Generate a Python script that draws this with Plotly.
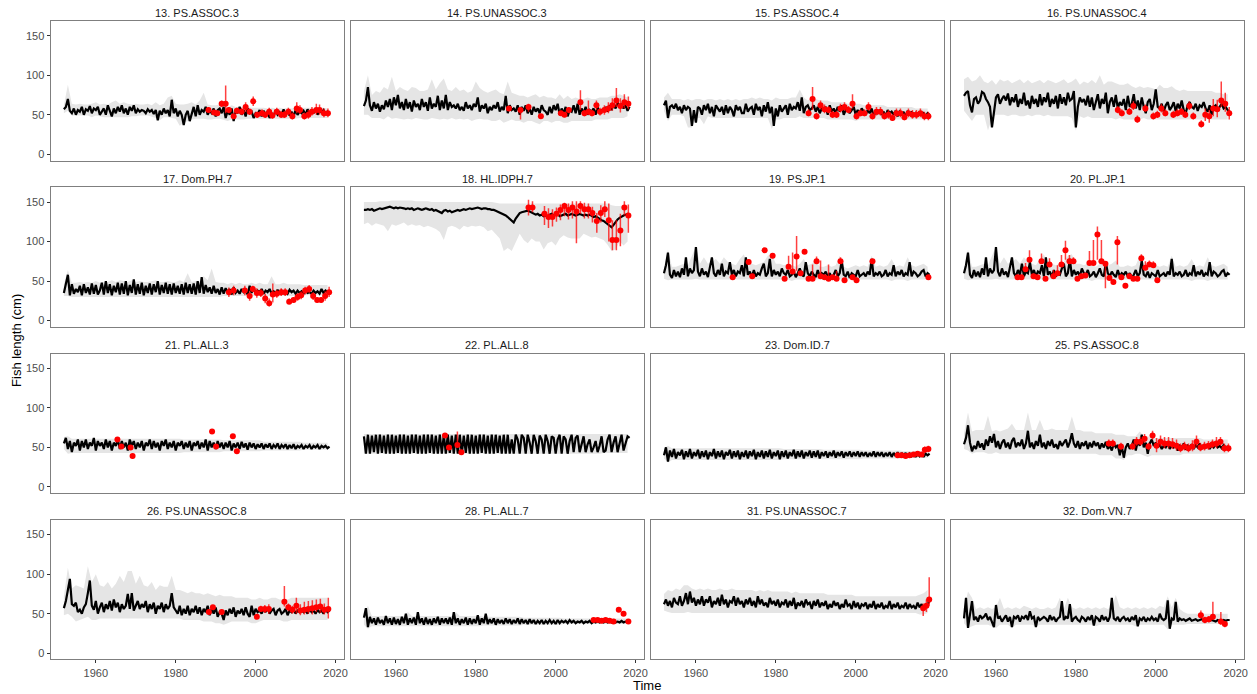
import plotly.graph_objects as go

# ---------------- data (line: half-yearly from 1952.0; ribbon: yearly from 1952) ----------------
titles = ["13. PS.ASSOC.3", "14. PS.UNASSOC.3", "15. PS.ASSOC.4", "16. PS.UNASSOC.4",
          "17. Dom.PH.7", "18. HL.IDPH.7", "19. PS.JP.1", "20. PL.JP.1",
          "21. PL.ALL.3", "22. PL.ALL.8", "23. Dom.ID.7", "25. PS.ASSOC.8",
          "26. PS.UNASSOC.8", "28. PL.ALL.7", "31. PS.UNASSOC.7", "32. Dom.VN.7"]
x_ticks = [1960, 1980, 2000, 2020]
y_ticks = [0, 50, 100, 150]

p13_line = [57,60,70,55,52,58,50,56,54,60,50,57,55,61,52,58,56,60,50,55,
            58,50,62,55,48,58,52,60,54,62,52,58,50,60,55,62,52,57,54,56,
            55,52,57,54,56,51,56,43,55,50,58,52,56,48,69,52,58,48,55,50,
            37,50,55,42,52,60,48,62,50,56,54,60,50,55,52,58,48,56,58,52,
            60,46,55,50,58,42,55,52,60,50,56,48,58,52,54,46,52,50,56,48,
            55,50,54,46,52,48,56,50,53,48,57,50,55,49,54,48,56,50,54,52,
            55,50,57,51,56,52,58,50,55,53,56,50,54,52]
p13_hi = [62,88,64,63,64,63,63,64,66,63, 64,63,66,68,64,66,64,63,64,63,
          63,64,62,66,62,64,72,74,64,63, 63,64,66,63,68,78,63,62,62,63,
          62,60,62,60,60,59,60,59,59,59, 59,58,59,58,59,58,59,58,59,59,
          59,59,59,59,59,59,58]
p13_lo = [52,55,49,49,49,49,49,47,49,48, 47,47,47,47,47,47,47,48,48,49,
          49,49,48,46,43,47,47,46,45,36, 40,42,44,45,45,45,44,44,45,45,
          44,42,44,44,44,44,45,45,45,45, 45,45,45,45,45,45,45,45,45,46,
          46,46,46,46,46,46,46]
p13_px = [1988.2,1989.6,1990.4,1991.5,1992.5,1993.3,1994.5,1995.3,1996.5,1997.5,1998.5,1999.4,2000.4,
          2001.6,2002.4,2003.4,2004.2,2005.3,2006.4,2007.2,2008.2,2009.2,2010.3,2011.1,2012.2,2013.2,
          2014.1,2015.2,2016.0,2017.1,2018.1]
p13_py = [56,53,52,64,64,56,48,55,54,60,54,67,50,52,50,54,49,54,50,50,54,48,58,56,48,50,54,56,56,52,52]
p13_eu = [4,3,3,4,23,4,3,4,5,6,4,6,4,5,4,5,4,5,5,5,5,5,8,6,5,6,6,8,7,6,6]
p13_ed = [3,3,3,4,12,4,3,4,4,6,4,6,4,4,4,4,4,4,4,4,4,4,6,5,4,5,5,6,6,5,5]

p14_line = [61,68,85,62,55,66,58,64,54,62,57,68,60,70,56,72,62,75,58,66,
            56,70,58,66,54,68,60,64,56,70,60,66,55,72,58,64,60,74,56,68,
            58,75,56,66,60,62,58,64,56,60,55,66,58,62,56,64,60,72,54,62,
            58,64,52,60,56,62,58,66,54,60,56,74,52,62,56,58,54,62,50,60,
            55,62,52,58,50,60,54,58,52,62,56,54,50,60,52,62,56,64,50,58,
            52,60,48,56,54,62,52,64,50,58,52,60,50,56,54,58,50,60,52,56,
            55,60,54,62,56,64,58,66,60,64,58,62,55,60]
p14_hi = [80,100,75,80,78,85,82,98,80,85, 82,80,85,84,80,80,82,95,82,90,
          96,82,80,85,80,82,78,80,92,84, 80,78,80,82,78,76,92,78,76,74,
          74,72,74,76,72,74,72,72,70,76, 70,74,70,72,70,70,72,70,70,72,
          72,72,74,74,76,74,72]
p14_lo = [50,50,46,46,46,44,48,45,46,45, 44,45,44,46,45,44,44,46,45,44,
          45,44,46,44,45,44,45,42,44,45, 44,44,42,42,44,40,42,44,42,42,
          40,42,42,40,38,42,42,40,42,42, 40,40,42,42,42,42,42,42,44,44,
          44,44,46,46,46,46,48]
p14_px = [1988.3,1991.2,1993.2,1996.3,2001.3,2002.2,2003.3,2006.2,2007.2,2008.2,2009.1,2010.2,2011.1,
          2012.2,2013.2,2014.2,2015.2,2016.2,2017.2,2018.2]
p14_py = [58,56,60,48,52,50,56,66,52,54,52,62,54,56,58,62,68,61,66,64]
p14_eu = [3,4,4,3,3,3,4,15,4,14,4,6,5,6,8,9,16,10,10,9]
p14_ed = [3,12,6,3,3,3,4,10,4,4,4,6,5,6,6,7,8,8,8,7]

p15_line = [62,68,46,60,62,58,64,56,60,52,62,56,60,58,36,56,40,60,58,50,
            62,56,64,52,60,48,62,58,54,60,50,62,52,60,56,48,62,56,60,52,
            52,64,54,58,60,50,64,56,60,48,62,54,66,52,60,36,58,48,62,54,
            58,62,50,64,56,60,58,66,55,72,52,60,62,56,58,62,54,60,52,58,
            56,60,50,62,54,58,52,60,54,62,50,56,58,52,56,60,50,56,52,58,
            54,50,56,52,58,48,54,52,56,50,54,48,56,52,54,50,55,48,54,52,
            53,48,55,50,54,49,52,48,54,50,52,48,52,50]
p15_hi = [72,78,70,70,70,68,70,68,70,70, 68,70,70,68,70,68,70,68,70,68,
          70,70,72,70,72,70,70,68,72,70, 70,70,72,72,82,72,68,72,70,68,
          68,68,66,66,66,66,64,64,64,64, 62,62,62,62,62,62,60,60,60,60,
          60,60,60,58,58,58,58]
p15_lo = [55,42,50,50,50,48,34,34,46,46, 38,48,46,46,46,46,46,46,46,46,
          46,46,46,46,46,46,46,32,44,44, 46,46,46,46,48,46,46,46,46,46,
          46,44,44,44,44,44,44,44,42,44, 44,44,44,44,44,44,44,44,44,44,
          44,44,44,44,44,44,44]
p15_px = [1988.2,1989.2,1990.2,1991.2,1992.2,1993.2,1994.2,1995.2,1996.2,1997.2,1998.2,1999.2,2000.2,
          2001.2,2002.2,2003.2,2004.2,2005.2,2006.2,2007.2,2008.2,2009.2,2010.2,2011.2,2012.2,2013.2,
          2014.2,2015.2,2016.2,2017.2,2018.2]
p15_py = [52,70,48,62,57,56,50,50,58,60,56,64,48,52,52,60,48,54,54,48,50,46,52,52,47,52,50,50,52,48,48]
p15_eu = [5,15,5,6,6,5,5,5,6,6,5,12,5,5,5,6,5,6,6,5,6,5,6,6,5,6,6,6,6,6,6]
p15_ed = [4,14,4,5,5,4,4,4,5,5,4,6,4,4,4,5,4,5,5,4,5,4,5,5,4,5,5,5,5,5,5]

p16_line = [74,78,80,62,53,70,72,64,68,79,77,70,66,60,34,56,72,76,64,70,
            74,68,77,62,72,66,76,60,70,64,78,62,68,58,74,64,70,60,76,62,
            72,66,78,60,70,64,74,58,76,64,72,62,78,68,70,80,34,60,72,66,
            70,62,74,60,72,56,68,76,58,70,64,78,52,66,72,60,75,58,66,62,
            70,56,74,60,64,76,58,68,56,72,60,52,66,70,56,64,82,60,58,64,
            54,62,66,56,60,66,54,64,58,68,56,52,62,66,60,58,64,55,62,60,
            66,58,54,62,50,60,62,56,60,64,58,60,56,54]
p16_hi = [95,98,92,94,100,92,90,94,88,95, 92,94,90,92,95,90,94,90,92,94,
          90,94,92,90,92,95,90,92,96,88, 92,90,94,90,100,88,92,92,90,88,
          88,90,86,84,86,84,85,84,82,88, 84,84,86,82,80,82,80,80,80,80,
          80,80,80,78,78,76,76]
p16_lo = [55,48,42,50,50,50,30,46,50,50, 50,48,50,50,48,48,50,48,50,50,
          48,50,48,48,48,48,48,46,30,48, 46,48,46,46,46,46,46,46,44,46,
          44,44,44,44,44,46,44,44,44,44, 44,44,44,44,44,44,44,44,44,44,
          44,44,44,44,44,44,44]
p16_px = [1990.5,1991.5,1993.4,1994.4,1995.4,1997.4,1999.4,2000.4,2001.4,2002.4,2004.4,2005.4,2006.4,
          2007.4,2008.4,2009.4,2011.4,2012.4,2013.4,2014.4,2015.4,2016.4,2017.4,2018.4]
p16_py = [56,52,54,61,44,58,48,50,58,52,50,52,54,50,61,48,38,50,48,58,57,68,64,52]
p16_eu = [5,5,5,6,5,5,5,5,6,5,5,5,5,5,6,5,5,8,8,12,12,24,14,8]
p16_ed = [4,4,4,5,4,4,4,4,5,4,4,4,4,4,5,4,4,8,8,10,10,8,10,8]

p17_line = [35,45,58,32,46,34,40,36,44,32,46,35,42,33,47,34,45,33,38,48,
            33,50,35,46,32,44,36,48,33,47,34,50,32,45,35,52,33,46,34,48,
            32,44,35,47,33,46,36,50,33,45,35,48,34,46,33,47,35,44,34,46,
            33,48,35,46,34,47,33,50,35,55,34,45,36,42,34,44,35,40,33,42,
            34,41,36,40,33,42,35,38,34,40,36,38,33,44,35,42,34,38,36,40,
            34,38,36,40,34,37,35,39,34,38,35,37,34,39,36,38,34,38,35,37,
            34,38,35,36,34,38,35,37,34,40,35,38,36,38]
p17_hi = [46,64,48,48,49,48,49,48,50,48, 49,49,51,49,51,50,49,51,49,50,
          49,49,50,51,49,49,50,49,49,51, 49,60,49,50,49,56,51,66,49,48,
          48,46,48,46,48,46,46,48,46,48, 46,46,56,46,46,48,46,46,46,46,
          45,45,45,45,45,45,45]
p17_lo = [31,31,30,30,30,30,30,30,30,30, 30,30,30,30,30,30,30,30,30,30,
          30,30,30,30,30,30,30,30,30,30, 30,30,30,30,30,30,30,30,30,30,
          31,31,31,31,31,31,31,31,31,31, 31,31,31,31,31,31,31,31,31,31,
          32,32,32,32,32,32,32]
p17_px = [1993.3,1994.5,1997.3,1998.5,1999.3,2000.3,2001.3,2002.4,2003.4,2004.3,2005.3,2006.4,2007.4,
          2008.4,2009.5,2010.5,2011.4,2012.4,2013.4,2014.4,2015.4,2016.4,2017.4,2018.4]
p17_py = [36,38,38,31,40,35,35,28,22,33,34,36,36,24,26,30,32,38,40,31,26,26,31,36]
p17_eu = [6,6,6,6,4,6,5,6,6,14,5,5,5,4,4,5,5,5,5,5,4,4,6,7]
p17_ed = [6,6,6,6,4,6,5,6,4,10,5,5,5,3,3,5,5,5,5,5,3,3,6,6]

p18_line = [140,140,141,140,141,139,140,141,142,141,142,143,143,144,143,142,143,142,143,142,
            142,141,142,141,142,140,141,142,141,140,141,142,141,140,141,139,140,139,138,136,
            139,140,138,139,137,138,139,140,139,140,141,140,141,142,141,142,142,143,142,141,
            142,142,141,141,140,140,139,138,137,136,135,133,131,129,126,124,129,133,136,137,
            138,139,139,138,137,135,134,135,133,134,132,133,131,134,135,133,134,135,132,133,
            134,135,133,134,135,134,133,134,135,134,133,134,133,134,132,131,132,130,128,127,
            126,124,122,119,118,121,125,128,130,132,133,134,135,134]
p18_hi = [150,150,150,150,151,151,151,152,152,152, 152,152,152,151,151,151,151,150,150,150,
          150,150,150,150,150,150,150,150,150,150, 150,150,150,149,148,148,148,148,148,148,
          148,148,148,148,148,148,148,148,148,148, 148,148,148,148,148,148,148,148,148,148,
          148,148,146,145,145,146,147]
p18_lo = [122,124,120,123,122,120,113,122,120,122, 124,120,122,120,121,118,120,118,116,112,
          102,118,120,118,115,120,118,120,119,120, 118,113,115,110,104,88,92,88,100,110,
          102,98,104,100,100,90,98,100,95,104, 108,105,104,104,104,110,108,105,106,104,
          102,96,88,90,100,95,100]
p18_px = [1993.2,1994.2,1997.2,1998.2,1999.2,2000.2,2001.2,2002.2,2003.2,2004.2,2005.2,2006.2,2007.2,
          2008.2,2009.2,2010.3,2011.3,2012.3,2013.3,2014.2,2015.2,2016.2,2017.2,2018.2]
p18_py = [143,143,135,131,131,135,140,145,140,143,138,145,141,141,136,126,136,141,127,102,102,114,143,133]
p18_eu = [10,8,10,11,10,8,7,4,8,8,13,6,8,7,8,10,10,10,21,25,25,21,8,14]
p18_ed = [10,6,14,14,12,10,13,13,12,14,40,10,12,12,12,15,12,10,27,13,13,20,10,22]

p19_line = [60,70,86,58,54,64,56,62,55,66,58,80,56,66,60,64,93,62,56,66,
            58,62,55,68,80,60,56,64,58,72,56,62,60,74,58,64,56,62,60,70,
            56,80,58,62,55,64,56,60,58,66,72,56,60,78,56,64,58,62,56,66,
            60,58,64,56,58,62,55,60,66,58,56,74,60,56,62,58,55,64,56,60,
            58,62,56,60,54,58,64,56,60,76,58,56,62,54,60,58,56,64,56,58,
            60,56,62,58,78,56,60,58,62,56,58,64,56,60,58,70,56,62,58,64,
            56,60,58,74,56,62,60,56,58,62,64,56,60,58]
p19_hi = [66,90,68,68,70,72,70,82,94,72, 80,72,74,78,72,80,74,72,70,78,
          84,70,72,70,72,74,82,84,72,72, 70,72,70,68,72,78,70,72,76,68,
          68,70,68,70,82,68,66,68,70,68, 70,68,82,68,70,68,70,78,68,70,
          68,80,70,68,70,72,68]
p19_lo = [53,51,52,52,52,52,52,52,53,52, 52,52,52,52,52,52,52,52,52,52,
          52,52,52,52,52,52,52,52,52,52, 52,52,50,52,52,52,52,52,52,52,
          52,52,52,52,52,52,52,52,52,52, 52,52,52,52,52,52,52,50,52,52,
          52,50,52,52,52,52,52]
p19_px = [1969.2,1973.2,1974.1,1977.2,1979.2,1982.2,1983.2,1984.2,1985.2,1986.2,1987.2,1988.2,1989.2,
          1990.2,1991.2,1992.2,1993.2,1994.2,1995.2,1996.2,1997.2,1999.2,2000.2,2004.2,2018.2]
p19_py = [55,74,56,89,82,53,68,62,81,60,87,53,53,75,56,55,53,55,53,75,51,55,51,75,55]
p19_eu = [2,4,2,2,3,2,14,24,26,2,2,2,18,6,20,2,18,2,10,5,2,2,2,2,2]
p19_ed = [2,2,2,2,3,2,2,2,18,2,2,2,2,2,2,2,2,2,2,2,2,2,2,2,2]

# panel 20 model curve is visually identical to panel 19
p20_line = p19_line
p20_hi = p19_hi
p20_lo = p19_lo
p20_px = [1965.4,1966.4,1967.4,1968.4,1969.4,1970.4,1971.4,1972.4,1973.4,1974.4,1975.4,1976.4,
          1977.4,1978.4,1979.4,1980.4,1981.4,1982.4,1983.4,1984.4,1985.4,1986.4,1987.4,1988.4,
          1989.4,1990.4,1991.4,1992.4,1993.4,1994.4,1995.4,1996.4,1997.4,1998.4,1999.4,2000.4]
p20_py = [55,55,65,77,56,55,75,53,71,56,60,71,89,75,75,53,56,57,73,73,109,75,72,54,49,99,55,44,56,53,53,79,67,71,70,51]
p20_eu = [3,3,8,12,3,3,10,3,8,8,10,12,12,8,5,3,3,3,15,29,10,27,3,3,3,8,3,3,3,3,3,5,8,5,5,3]
p20_ed = [3,3,3,3,3,3,3,3,3,3,3,3,12,3,3,3,3,3,3,3,32,3,31,3,3,28,3,3,3,3,3,3,3,3,3,3]

p21_line = [55,62,48,58,44,56,52,60,46,58,50,60,48,56,52,62,46,58,52,56,
            48,60,50,58,46,56,52,60,48,58,50,56,46,60,52,58,48,56,50,58,
            46,56,52,60,48,58,50,56,46,58,52,60,48,56,50,58,46,56,52,58,
            48,56,50,58,46,56,52,58,48,56,50,60,46,58,50,56,48,58,50,56,
            48,56,50,58,46,55,50,56,48,57,50,55,47,56,50,55,48,54,50,55,
            48,54,50,55,48,53,50,55,48,53,50,54,48,53,49,54,48,52,50,53,
            48,52,50,53,48,52,50,53,48,52,50,52,49,51]
p21_hi = [63,64,61,61,61,61,61,61,61,61, 61,61,61,61,61,61,61,61,61,61,
          61,61,61,61,61,61,61,61,61,61, 60,60,60,60,60,60,60,60,60,60,
          59,59,59,59,59,59,59,59,59,59, 57,57,57,57,57,57,57,57,57,57,
          56,56,56,56,56,56,56]
p21_lo = [48,42,43,43,43,43,43,43,43,43, 43,43,43,43,43,43,43,43,43,43,
          43,43,43,43,43,43,43,43,43,43, 44,44,44,44,44,44,44,44,44,44,
          45,45,45,45,45,45,45,45,45,45, 46,46,46,46,46,46,46,46,46,46,
          47,47,47,47,47,47,47]
p21_px = [1965.4,1966.4,1968.7,1969.2,1989.1,1990.1,1994.3,1995.3]
p21_py = [60,51,50,39,70,51,64,45]
p21_eu = [3,3,3,3,3,3,3,3]
p21_ed = [3,3,3,3,3,3,3,3]

p22_line = [64,42,66,42,65,44,66,42,66,43,65,42,66,42,66,42,65,43,66,42,
            66,42,65,42,66,43,66,42,65,42,66,42,66,43,66,42,65,42,66,42,
            66,42,66,43,65,42,66,42,66,42,65,43,66,42,66,42,65,42,66,43,
            66,42,65,42,66,42,66,43,65,42,66,42,66,42,60,42,66,60,42,66,
            62,42,66,56,42,66,58,42,65,60,42,66,58,42,64,62,42,60,66,42,
            64,60,42,58,66,44,62,65,44,56,64,44,54,60,44,50,58,44,52,64,
            44,46,60,66,44,56,64,44,56,66,46,54,64,62]
p22_hi = [67,67,67,67,67,67,67,67,67,67, 67,67,67,67,67,67,67,67,67,67,
          67,67,67,67,67,67,67,67,67,67, 67,67,67,67,67,67,67,67,67,67,
          67,67,67,67,67,67,67,67,67,67, 67,67,67,67,67,67,67,67,67,67,
          67,67,67,67,67,67,67]
p22_lo = [42,42,42,42,42,42,42,42,42,42, 42,42,42,42,42,42,42,42,42,42,
          42,42,42,42,42,42,42,42,42,42, 42,42,42,42,42,42,42,42,42,42,
          42,42,42,42,42,42,42,42,42,42, 42,42,42,42,42,42,42,42,42,42,
          43,43,43,43,43,43,43]
p22_px = [1972.3,1973.3,1975.4,1976.4]
p22_py = [65,50,53,44]
p22_eu = [2,2,17,2]
p22_ed = [2,2,2,2]

p23_line = [40,50,32,46,38,48,36,44,40,47,35,45,38,48,36,44,39,47,36,45,
            38,46,35,44,39,48,36,45,38,46,35,44,40,47,36,45,38,46,35,44,
            38,46,36,45,39,47,35,44,38,46,36,45,38,47,36,44,39,46,35,45,
            38,46,36,44,39,47,36,45,38,46,36,44,39,46,37,45,38,46,36,44,
            39,45,37,44,39,46,37,44,39,45,37,44,39,45,38,44,39,45,38,44,
            39,44,38,43,39,45,38,44,39,44,38,43,39,44,38,43,39,44,38,43,
            39,43,38,42,39,43,38,42,39,43,38,42,40,42]
p23_hi = [49,52,49,49,49,49,49,49,49,49, 49,49,49,49,49,49,49,49,49,49,
          49,49,49,49,49,49,49,49,49,49, 48,48,48,48,48,48,48,48,48,48,
          47,47,47,47,47,47,47,47,47,47, 46,46,46,46,46,46,46,46,46,46,
          45,45,45,45,45,45,45]
p23_lo = [36,31,34,34,34,34,34,34,34,34, 34,34,34,34,34,34,34,34,34,34,
          34,34,34,34,34,34,34,34,34,34, 35,35,35,35,35,35,35,35,35,35,
          35,35,35,35,35,35,35,35,35,35, 36,36,36,36,36,36,36,36,36,36,
          37,37,37,37,37,37,37]
p23_px = [2010.5,2011.5,2012.5,2013.5,2014.5,2015.5,2016.5,2017.3,2018.2]
p23_py = [40,40,39,40,41,42,41,47,48]
p23_eu = [3,3,3,3,3,3,3,4,4]
p23_ed = [3,3,3,3,3,3,3,4,4]

p25_line = [54,62,78,56,45,52,48,58,50,55,47,60,52,64,56,67,50,58,48,56,
            60,50,56,48,58,62,50,56,52,60,48,55,71,50,56,48,58,52,66,50,
            56,48,58,52,60,50,54,48,58,52,56,60,50,57,68,55,50,58,48,56,
            52,58,48,56,50,58,52,56,48,55,50,57,48,52,46,55,50,53,40,52,
            37,50,55,48,52,60,46,58,52,66,50,56,42,55,60,52,56,50,54,48,
            52,50,55,48,53,50,54,46,52,50,55,47,52,50,54,48,53,50,55,49,
            52,50,54,48,53,50,54,50,52,49,53,50,51,50]
p25_hi = [68,94,70,72,72,72,90,70,72,70, 72,74,80,72,72,72,94,72,72,85,
          72,72,74,72,72,72,72,89,72,72, 70,70,70,68,68,68,68,68,66,66,
          66,64,64,64,70,64,64,62,62,62, 62,62,62,62,62,62,62,62,62,62,
          60,60,60,60,60,60,60]
p25_lo = [48,46,42,44,44,44,42,42,44,42, 42,42,42,42,42,42,42,42,42,42,
          42,42,42,42,42,42,42,42,42,42, 42,42,42,42,40,40,40,40,36,36,
          34,40,40,42,42,40,38,40,40,40, 40,40,40,40,40,42,42,42,42,42,
          42,42,42,42,42,42,42]
p25_px = [1988.25,1989.25,1991.3,1994.2,1995.2,1996.2,1997.2,1998.2,1999.2,2000.2,2001.2,2002.2,2003.2,
          2004.2,2005.2,2006.2,2007.2,2008.2,2009.2,2010.2,2011.2,2012.2,2013.2,2014.2,2015.2,2016.2,
          2017.2,2018.2]
p25_py = [55,55,51,51,57,57,61,51,65,52,57,55,55,54,52,49,51,49,51,57,50,51,52,54,55,57,49,49]
p25_eu = [5,5,5,5,6,6,6,5,6,10,8,8,8,8,8,6,6,6,8,8,6,6,6,6,8,6,6,6]
p25_ed = [4,4,4,4,5,5,5,4,5,8,6,6,6,6,6,5,5,5,6,6,5,5,5,5,6,5,5,5]

p26_line = [57,66,80,94,62,60,64,52,55,50,58,62,76,92,60,55,66,50,58,64,
            52,62,56,66,54,68,58,64,52,62,56,60,75,56,76,54,60,66,56,62,
            58,66,52,62,56,64,50,60,56,64,52,62,56,60,76,58,54,50,60,48,
            56,50,60,48,56,52,60,50,58,48,56,52,60,48,56,50,58,46,52,50,
            42,54,48,56,50,58,46,54,50,56,48,58,50,46,60,48,56,52,54,50,
            56,52,58,50,54,56,48,54,56,50,52,56,48,54,52,56,50,54,52,55,
            52,54,50,56,52,54,50,55,52,54,50,56,52,54]
p26_hi = [72,108,82,86,84,82,110,90,100,86, 84,90,82,88,98,90,104,104,88,98,
          86,84,90,80,86,84,84,98,80,80, 78,76,78,76,76,74,76,74,72,74,
          72,72,72,70,70,70,70,68,68,70, 68,68,70,70,68,68,68,70,70,70,
          70,70,70,70,70,70,70]
p26_lo = [48,50,46,40,42,44,46,42,42,44, 44,44,44,44,44,44,44,44,44,44,
          44,44,44,44,44,44,44,44,44,44, 42,42,42,42,42,40,40,40,38,38,
          36,38,40,40,40,40,40,38,38,40, 42,42,42,42,42,40,40,42,42,42,
          42,42,42,42,42,42,42]
p26_px = [1988.3,1989.3,1991.5,2000.3,2001.3,2002.3,2003.3,2007.2,2008.2,2009.2,2010.2,2011.2,2012.2,
          2013.2,2014.2,2015.2,2016.2,2017.2,2018.2]
p26_py = [52,58,52,46,56,56,56,65,58,55,60,54,55,56,57,58,59,55,56]
p26_eu = [3,3,3,3,4,5,6,20,5,5,10,8,10,10,10,10,10,8,14]
p26_ed = [3,3,3,3,4,5,6,6,5,5,10,6,6,6,8,6,8,6,12]

p28_line = [45,57,33,46,38,44,36,45,38,42,36,47,38,44,36,45,37,43,36,46,
            38,50,36,44,38,45,36,52,38,44,36,45,37,43,36,44,38,46,36,44,
            38,44,37,45,36,52,38,44,36,43,38,45,36,44,37,43,38,48,36,44,
            38,50,37,43,38,44,36,43,38,42,37,44,38,43,37,42,38,44,37,43,
            38,42,37,43,38,42,37,41,38,42,37,41,38,42,38,41,37,42,38,41,
            39,41,38,42,39,41,38,40,39,41,38,40,39,41,38,40,39,41,39,40,
            39,41,39,40,39,41,39,40,39,41,39,40,39,40]
p28_hi = [48,60,47,47,47,47,47,47,47,47, 47,52,47,47,47,47,47,47,47,47,
          47,47,47,52,47,47,47,47,47,47, 46,46,46,46,46,46,46,46,46,46,
          45,45,45,45,45,45,45,45,45,45, 44,44,44,44,44,44,44,44,44,44,
          44,44,44,44,44,44,44]
p28_lo = [36,31,34,34,34,34,34,34,34,34, 34,34,34,34,34,34,34,34,34,34,
          34,34,34,34,34,34,34,34,34,34, 35,35,35,35,35,35,35,35,35,35,
          36,36,36,36,36,36,36,36,36,36, 37,37,37,37,37,37,37,37,37,37,
          37,37,37,37,37,37,37]
p28_px = [2009.5,2010.5,2011.5,2012.5,2013.5,2014.5,2015.8,2017.0,2018.2]
p28_py = [42,42,41,42,41,40,55,50,40]
p28_eu = [2,2,2,2,2,2,3,3,2]
p28_ed = [2,2,2,2,2,2,3,3,2]

p31_line = [62,68,60,66,58,70,64,62,72,60,66,76,62,78,64,70,60,68,62,72,
            60,68,64,72,58,66,62,70,60,74,62,68,58,66,64,72,60,70,62,66,
            58,68,62,70,60,66,58,72,62,68,60,64,58,70,62,66,60,68,58,64,
            62,68,58,66,60,70,56,64,60,66,58,68,62,64,56,66,60,68,58,64,
            60,66,56,62,58,66,60,64,56,62,58,68,60,62,56,66,58,64,56,62,
            60,64,56,62,58,66,56,62,58,64,56,60,58,66,56,62,58,64,56,60,
            58,64,56,62,58,60,56,64,58,62,56,60,62,66]
p31_hi = [75,80,78,82,80,86,86,82,80,82, 80,82,80,80,82,80,80,82,80,80,
          80,80,80,78,80,78,80,78,78,78, 78,78,76,78,76,76,76,76,76,76,
          76,74,74,74,74,74,74,74,72,72, 72,72,72,72,72,72,72,72,72,72,
          72,72,72,72,74,76,80]
p31_lo = [54,52,51,51,51,51,52,51,51,51, 51,51,51,51,51,51,51,51,51,51,
          51,51,51,51,51,51,51,51,51,51, 51,51,51,51,51,51,51,51,51,51,
          51,51,51,51,51,51,51,51,51,51, 51,51,51,51,51,51,51,51,51,51,
          51,51,51,51,49,49,51]
p31_px = [2016.9,2017.7,2018.4]
p31_py = [57,60,68]
p31_eu = [6,8,28]
p31_ed = [10,8,8]

p32_line = [44,70,32,48,66,42,46,40,48,44,46,50,42,46,40,33,61,44,46,40,
            44,48,40,46,33,46,44,48,40,46,44,48,42,53,44,46,33,46,42,44,
            46,44,40,48,42,46,40,44,46,66,42,46,44,62,40,44,46,42,40,46,
            44,40,46,42,48,35,46,44,40,48,42,46,40,46,70,44,42,46,40,44,
            46,42,44,40,46,42,48,34,44,42,46,40,44,42,46,42,44,40,50,44,
            42,44,67,31,44,42,65,40,44,42,43,41,42,44,41,42,43,41,42,43,
            41,42,43,41,42,41,40,42,41,40,42,41,42,42]
p32_hi = [56,78,70,56,58,56,58,56,58,70, 56,58,56,58,56,60,58,56,58,56,
          56,58,56,58,70,56,70,58,56,58, 56,58,56,58,56,58,56,58,74,58,
          56,58,56,58,56,58,56,58,56,60, 58,72,58,70,56,52,50,50,50,50,
          50,50,50,50,50,50,50]
p32_lo = [38,32,34,36,36,36,36,34,32,36, 36,36,32,36,36,36,36,36,34,36,
          36,36,36,36,36,36,36,36,36,36, 36,36,36,34,36,36,36,36,36,36,
          36,36,36,34,36,36,36,36,36,36, 36,30,36,36,36,36,37,37,37,37,
          37,37,37,37,37,37,37]
p32_px = [2011.3,2012.3,2013.3,2014.3,2016.3,2017.3]
p32_py = [48,42,43,46,40,37]
p32_eu = [6,4,4,19,12,4]
p32_ed = [4,4,4,4,4,4]

panels = [
    (p13_line, p13_lo, p13_hi, p13_px, p13_py, p13_eu, p13_ed),
    (p14_line, p14_lo, p14_hi, p14_px, p14_py, p14_eu, p14_ed),
    (p15_line, p15_lo, p15_hi, p15_px, p15_py, p15_eu, p15_ed),
    (p16_line, p16_lo, p16_hi, p16_px, p16_py, p16_eu, p16_ed),
    (p17_line, p17_lo, p17_hi, p17_px, p17_py, p17_eu, p17_ed),
    (p18_line, p18_lo, p18_hi, p18_px, p18_py, p18_eu, p18_ed),
    (p19_line, p19_lo, p19_hi, p19_px, p19_py, p19_eu, p19_ed),
    (p20_line, p20_lo, p20_hi, p20_px, p20_py, p20_eu, p20_ed),
    (p21_line, p21_lo, p21_hi, p21_px, p21_py, p21_eu, p21_ed),
    (p22_line, p22_lo, p22_hi, p22_px, p22_py, p22_eu, p22_ed),
    (p23_line, p23_lo, p23_hi, p23_px, p23_py, p23_eu, p23_ed),
    (p25_line, p25_lo, p25_hi, p25_px, p25_py, p25_eu, p25_ed),
    (p26_line, p26_lo, p26_hi, p26_px, p26_py, p26_eu, p26_ed),
    (p28_line, p28_lo, p28_hi, p28_px, p28_py, p28_eu, p28_ed),
    (p31_line, p31_lo, p31_hi, p31_px, p31_py, p31_eu, p31_ed),
    (p32_line, p32_lo, p32_hi, p32_px, p32_py, p32_eu, p32_ed),
]

# ---------------- layout geometry (pixels) ----------------
W, H = 1257, 694
col_left = [50.7, 351.7, 652.7, 953.7]
pw = 294.3
row_top = [21.0, 187.3, 353.6, 519.9]
ph = 139.5
FONT = "Liberation Sans, Arial, sans-serif"

fig = go.Figure()
layout = dict(width=W, height=H, margin=dict(l=0, r=0, t=0, b=0),
              paper_bgcolor="white", plot_bgcolor="white", showlegend=False,
              font=dict(family=FONT), annotations=[])

for k, (line, lo, hi, px, py, eu, ed) in enumerate(panels):
    r, c = divmod(k, 4)
    i = k + 1
    xa = "x" if i == 1 else f"x{i}"
    ya = "y" if i == 1 else f"y{i}"
    ry = [1952 + j for j in range(min(len(hi), len(lo)))]
    fig.add_trace(go.Scatter(x=ry + ry[::-1], y=hi[:len(ry)] + lo[:len(ry)][::-1],
                             fill="toself", fillcolor="#e5e5e5", line=dict(width=0),
                             mode="lines", hoverinfo="skip", xaxis=xa, yaxis=ya))
    lx = [1952 + j / 2 for j in range(len(line))]
    fig.add_trace(go.Scatter(x=lx, y=line, mode="lines",
                             line=dict(color="black", width=2.2), xaxis=xa, yaxis=ya))
    fig.add_trace(go.Scatter(x=px, y=py, mode="markers",
                             marker=dict(color="#ff0000", size=6),
                             error_y=dict(type="data", symmetric=False, array=eu, arrayminus=ed,
                                          color="rgba(255,0,0,0.75)", thickness=1.5, width=0),
                             xaxis=xa, yaxis=ya))
    x0 = col_left[c] / W
    x1 = (col_left[c] + pw) / W
    y1 = 1 - row_top[r] / H
    y0 = 1 - (row_top[r] + ph) / H
    bottom = (r == 3)
    left = (c == 0)
    layout["xaxis" if i == 1 else f"xaxis{i}"] = dict(
        domain=[x0, x1], range=[1948.66, 2022.1], anchor=ya,
        showline=True, mirror=True, linecolor="#7f7f7f", linewidth=1,
        showgrid=False, zeroline=False, tickmode="array", tickvals=x_ticks,
        ticks="outside" if bottom else "", ticklen=3, tickcolor="#333333",
        showticklabels=bottom, tickfont=dict(size=11, color="#4d4d4d", family=FONT))
    layout["yaxis" if i == 1 else f"yaxis{i}"] = dict(
        domain=[y0, y1], range=[-7.8, 168.6], anchor=xa,
        showline=True, mirror=True, linecolor="#7f7f7f", linewidth=1,
        showgrid=False, zeroline=False, tickmode="array", tickvals=y_ticks,
        ticks="outside" if left else "", ticklen=3, tickcolor="#333333",
        showticklabels=left, tickfont=dict(size=11, color="#4d4d4d", family=FONT))
    layout["annotations"].append(dict(
        text=titles[k], xref="paper", yref="paper", x=(x0 + x1) / 2,
        y=1 - (row_top[r] - 8.5) / H, xanchor="center", yanchor="middle",
        showarrow=False, font=dict(size=11, color="#1a1a1a", family=FONT)))

layout["annotations"].append(dict(
    text="Fish length (cm)", xref="paper", yref="paper", x=17 / W, y=1 - 340 / H,
    xanchor="center", yanchor="middle", textangle=-90, showarrow=False,
    font=dict(size=13, color="black", family=FONT)))
layout["annotations"].append(dict(
    text="Time", xref="paper", yref="paper", x=649.4 / W, y=1 - 685 / H,
    xanchor="center", yanchor="middle", showarrow=False,
    font=dict(size=13, color="black", family=FONT)))

fig.update_layout(**layout)
fig.write_html("out.html", config={"displayModeBar": False},
               post_script="document.body.style.margin='0';document.body.style.overflow='hidden';")
